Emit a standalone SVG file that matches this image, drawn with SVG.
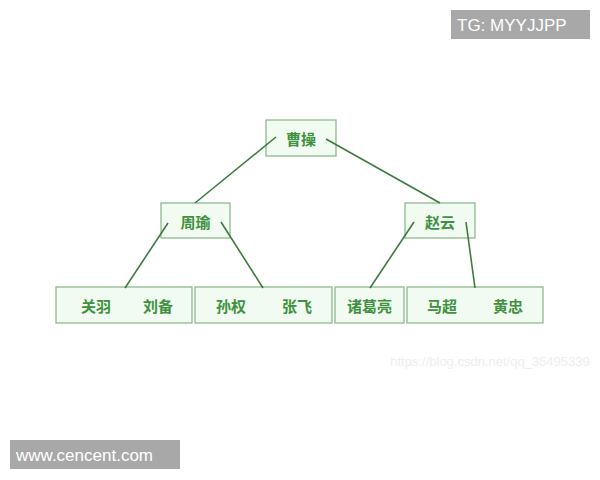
<svg xmlns="http://www.w3.org/2000/svg" width="600" height="480" viewBox="0 0 600 480">
<style>
.box{fill:#f1fbf1;stroke:#8fb98f;stroke-width:1.3}
.t{font-family:"Noto Sans CJK SC","Noto Sans",sans-serif;font-size:15px;font-weight:bold;fill:#3f913f;text-anchor:middle;dominant-baseline:central}
.ln{stroke:#3f7a3f;stroke-width:1.6;fill:none}
.wm{font-family:"Liberation Sans",Arial,sans-serif;fill:#ffffff;font-size:17px;dominant-baseline:central}
</style>
<rect width="600" height="480" fill="#ffffff"/>
<g id="n-caocao"><rect class="box" x="266" y="120" width="70" height="36"/><text class="t" x="301" y="138">曹操</text></g>
<g id="n-zhouyu"><rect class="box" x="161" y="203" width="69" height="35"/><text class="t" x="195.5" y="221">周瑜</text></g>
<g id="n-zhaoyun"><rect class="box" x="405" y="203" width="70" height="35"/><text class="t" x="440" y="221">赵云</text></g>
<g id="n-guanyu-liubei"><rect class="box" x="56" y="287" width="136" height="36"/><text class="t" x="96" y="305">关羽</text><text class="t" x="158" y="305">刘备</text></g>
<g id="n-sunquan-zhangfei"><rect class="box" x="195" y="287" width="137" height="36"/><text class="t" x="231" y="305">孙权</text><text class="t" x="297" y="305">张飞</text></g>
<g id="n-zhugeliang"><rect class="box" x="335" y="287" width="69" height="36"/><text class="t" x="369.5" y="305">诸葛亮</text></g>
<g id="n-machao-huangzhong"><rect class="box" x="407" y="287" width="136" height="36"/><text class="t" x="442" y="305">马超</text><text class="t" x="508" y="305">黄忠</text></g>
<g id="connectors">
<line class="ln" x1="276" y1="137" x2="195" y2="203"/>
<line class="ln" x1="326" y1="139" x2="440" y2="203"/>
<line class="ln" x1="168" y1="223" x2="125" y2="288"/>
<line class="ln" x1="221" y1="222" x2="263" y2="288"/>
<line class="ln" x1="414" y1="222" x2="370" y2="288"/>
<line class="ln" x1="466" y1="222" x2="475" y2="288"/>
</g>
<text x="490" y="361" font-family="Liberation Sans,Arial,sans-serif" font-size="13" fill="#eeeeee" text-anchor="middle" dominant-baseline="central">https://blog.csdn.net/qq_35495339</text>
<rect x="451" y="10" width="139" height="29" fill="#a8a8a8"/>
<text class="wm" x="457" y="25">TG: MYYJJPP</text>
<rect x="10" y="440" width="170" height="29" fill="#a8a8a8"/>
<text class="wm" x="16" y="455">www.cencent.com</text>
</svg>
